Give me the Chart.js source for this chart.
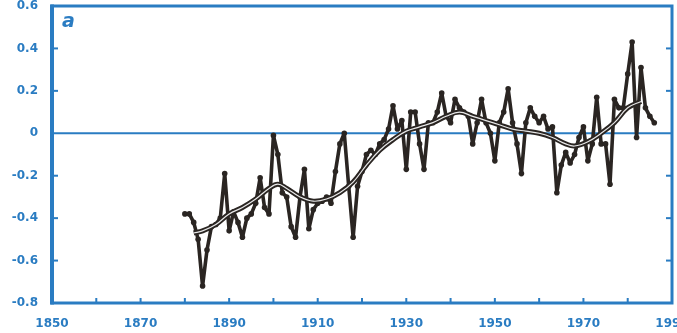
<!DOCTYPE html>
<html><head><meta charset="utf-8">
<script src="https://cdn.jsdelivr.net/npm/chart.js@4"></script>
<style>html,body{margin:0;padding:0;background:#fff}#wrap{width:677px;height:333px;position:relative}</style>
</head><body><div id="wrap"><canvas id="c" width="677" height="333"></canvas></div>
<script>
const years = [1880,1881,1882,1883,1884,1885,1886,1887,1888,1889,
1890,1891,1892,1893,1894,1895,1896,1897,1898,1899,
1900,1901,1902,1903,1904,1905,1906,1907,1908,1909,
1910,1911,1912,1913,1914,1915,1916,1917,1918,1919,
1920,1921,1922,1923,1924,1925,1926,1927,1928,1929,
1930,1931,1932,1933,1934,1935,1936,1937,1938,1939,
1940,1941,1942,1943,1944,1945,1946,1947,1948,1949,
1950,1951,1952,1953,1954,1955,1956,1957,1958,1959,
1960,1961,1962,1963,1964,1965,1966,1967,1968,1969,
1970,1971,1972,1973,1974,1975,1976,1977,1978,1979,
1980,1981,1982,1983,1984,1985,1986];
const anomaly = [-0.38,-0.38,-0.42,-0.50,-0.72,-0.55,-0.44,-0.43,-0.40,-0.19,
-0.46,-0.37,-0.42,-0.49,-0.40,-0.38,-0.33,-0.21,-0.35,-0.38,
-0.01,-0.10,-0.28,-0.30,-0.44,-0.49,-0.30,-0.17,-0.45,-0.36,
-0.33,-0.32,-0.30,-0.33,-0.18,-0.05,0.00,-0.25,-0.49,-0.25,
-0.18,-0.10,-0.08,-0.10,-0.05,-0.03,0.02,0.13,0.02,0.06,
-0.17,0.10,0.10,-0.05,-0.17,0.05,0.05,0.10,0.19,0.08,
0.05,0.16,0.12,0.10,0.08,-0.05,0.05,0.16,0.05,0.00,
-0.13,0.05,0.10,0.21,0.05,-0.05,-0.19,0.05,0.12,0.08,
0.05,0.08,0.02,0.03,-0.28,-0.15,-0.09,-0.14,-0.10,-0.02,
0.03,-0.13,-0.05,0.17,-0.05,-0.05,-0.24,0.16,0.12,0.12,
0.28,0.43,-0.02,0.31,0.12,0.08,0.05];
const smoothYears = [1882,1884,1887,1890,1893,1896,1899,1901,1903,1906,1909,1912,1915,1918,1921,1924,1927,1930,1933,1936,1939,1942,1945,1948,1951,1954,1957,1960,1963,1966,1968,1971,1974,1977,1980,1983];
const smoothValues = [-0.47,-0.46,-0.43,-0.38,-0.35,-0.31,-0.26,-0.24,-0.26,-0.30,-0.32,-0.31,-0.28,-0.23,-0.15,-0.08,-0.03,0.01,0.03,0.05,0.08,0.10,0.08,0.06,0.04,0.02,0.01,0.00,-0.02,-0.05,-0.06,-0.04,0.00,0.05,0.12,0.15];
const xTickLabels = [1850,1870,1890,1910,1930,1950,1970,1990];
const xMinorTicks = [1860,1870,1880,1890,1900,1910,1920,1930,1940,1950,1960,1970,1980];
const yTickLabels = [0.6,0.4,0.2,0,-0.2,-0.4,-0.6,-0.8];
const panelLabel = 'a';

const BLUE = '#2a7cc2';
const INK = '#2a2522';

const mainData = years.map((y,i)=>({x:y,y:anomaly[i]}));
const smoothData = smoothYears.map((y,i)=>({x:y,y:smoothValues[i]}));

const framePlugin = {
  id:'frame',
  beforeDatasetsDraw(chart){
    const {ctx, chartArea:a, scales:{x,y}} = chart;
    ctx.save();
    ctx.strokeStyle = BLUE; ctx.lineWidth = 2;
    const y0 = y.getPixelForValue(0);
    ctx.beginPath(); ctx.moveTo(a.left, y0); ctx.lineTo(a.right, y0); ctx.stroke();
    ctx.restore();
  },
  afterDraw(chart){
    const {ctx, chartArea:a, scales:{x,y}} = chart;
    ctx.save();
    ctx.strokeStyle = BLUE;
    ctx.lineWidth = 3;
    ctx.strokeRect(a.left, a.top, a.right-a.left, a.bottom-a.top);
    ctx.lineWidth = 4;
    ctx.beginPath(); ctx.moveTo(a.left, a.top-1.5); ctx.lineTo(a.left, a.bottom+1.5); ctx.stroke();
    ctx.lineWidth = 2;
    xMinorTicks.forEach(v=>{
      const px = x.getPixelForValue(v);
      ctx.beginPath(); ctx.moveTo(px, a.bottom); ctx.lineTo(px, a.bottom-5); ctx.stroke();
    });
    yTickLabels.forEach(v=>{
      if (v===0.6 || v===-0.8 || v===0) return;
      const py = y.getPixelForValue(v);
      ctx.beginPath(); ctx.moveTo(a.left, py); ctx.lineTo(a.left+6, py); ctx.stroke();
      ctx.beginPath(); ctx.moveTo(a.right, py); ctx.lineTo(a.right-6, py); ctx.stroke();
    });
    ctx.fillStyle = BLUE;
    ctx.font = 'italic bold 19px "DejaVu Sans"';
    ctx.textBaseline = 'middle';
    ctx.fillText(panelLabel, a.left+10, a.top+16);
    ctx.restore();
  }
};

new Chart(document.getElementById('c'), {
  type:'line',
  data:{datasets:[
    {data:smoothData, borderColor:INK, borderWidth:5, pointRadius:0, tension:0.4, order:3},
    {data:mainData, borderColor:INK, borderWidth:3.6, borderJoinStyle:'round', borderCapStyle:'round', pointRadius:2.8, pointBackgroundColor:INK, pointBorderColor:INK, pointBorderWidth:0, tension:0, order:2},
    {data:smoothData, borderColor:'#e8e8e8', borderWidth:1.2, pointRadius:0, tension:0.4, order:1}
  ]},
  options:{
    responsive:false, animation:false,
    layout:{padding:{top:6,right:5,left:0,bottom:0}},
    plugins:{legend:{display:false}, tooltip:{enabled:false}},
    scales:{
      x:{type:'linear', min:1850, max:1990,
        afterBuildTicks(s){ s.ticks = xTickLabels.map(v=>({value:v})); },
        afterFit(s){ s.height = 30; s.paddingLeft = 0; s.paddingRight = 0; },
        grid:{display:false}, border:{display:false},
        ticks:{color:BLUE, font:{family:'DejaVu Sans', weight:'bold', size:12}, padding:6, maxRotation:0, autoSkip:false, callback:v=>String(v)}
      },
      y:{min:-0.8, max:0.6,
        afterBuildTicks(s){ s.ticks = yTickLabels.map(v=>({value:v})); },
        afterFit(s){ s.width = 52; s.paddingTop = 0; s.paddingBottom = 0; },
        grid:{display:false}, border:{display:false},
        ticks:{color:BLUE, font:{family:'DejaVu Sans', weight:'bold', size:12}, padding:6, autoSkip:false,
          callback:v=>{ const r = Math.round(v*10)/10; return r===0 ? '0' : r.toFixed(1); }}
      }
    }
  },
  plugins:[framePlugin]
});
</script></body></html>
